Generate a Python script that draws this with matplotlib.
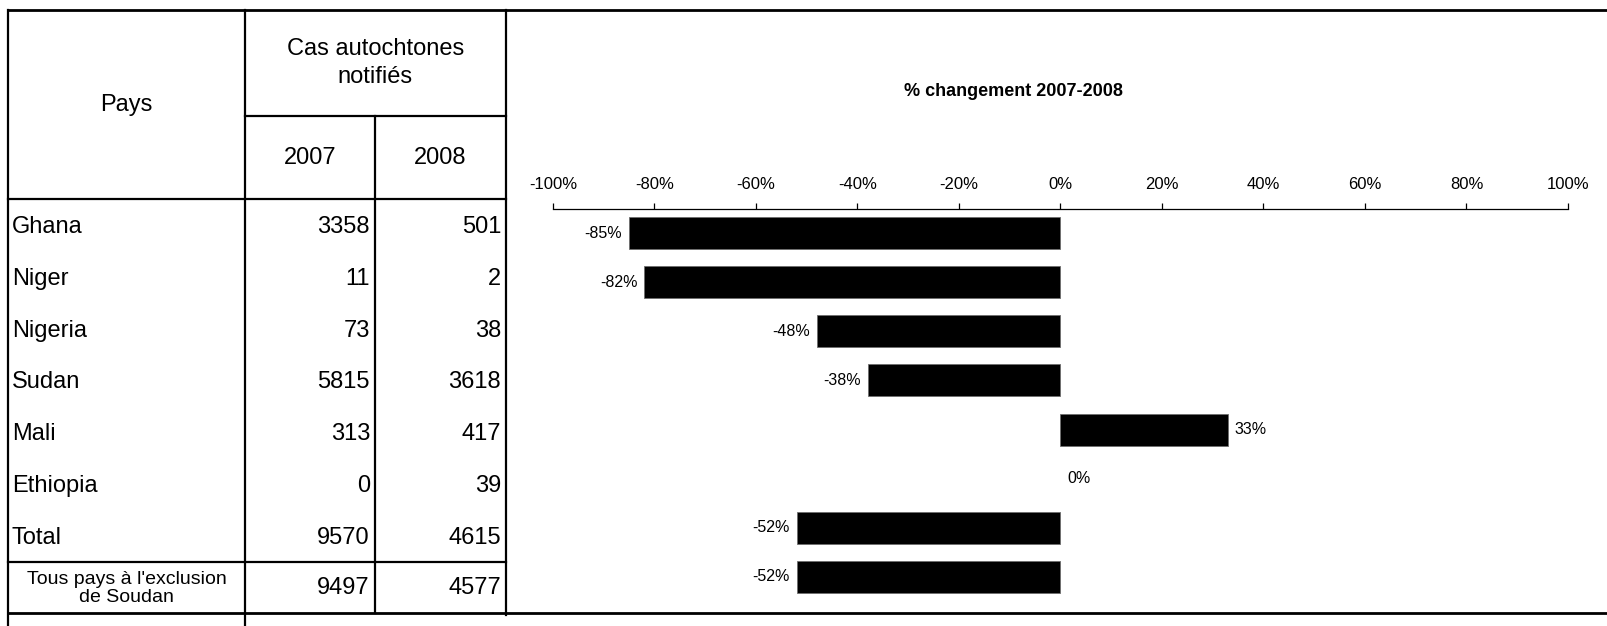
import numpy as np
import matplotlib
matplotlib.use("Agg")
import matplotlib.pyplot as plt

plt.rcParams['font.family'] = ['Liberation Sans', 'DejaVu Sans']
plt.rcParams['axes.unicode_minus'] = False

# data
countries = ["Ghana", "Niger", "Nigeria", "Sudan", "Mali", "Ethiopia", "Total",
             "Tous pays à l'exclusion\nde Soudan"]
cases_2007 = [3358, 11, 73, 5815, 313, 0, 9570, 9497]
cases_2008 = [501, 2, 38, 3618, 417, 39, 4615, 4577]
pct_change = [-85, -82, -48, -38, 33, 0, -52, -52]
tick_vals = [-100, -80, -60, -40, -20, 0, 20, 40, 60, 80, 100]

W, H = 1608, 626
fig = plt.figure(figsize=(W / 100, H / 100), dpi=100)

# table drawn in pixel coordinates on a full-figure axes
tab = fig.add_axes([0, 0, 1, 1])
tab.set_xlim(0, W)
tab.set_ylim(H, 0)
tab.axis('off')

lw = 1.6
def hline(y, x0, x1, w=lw):
    tab.plot([x0, x1], [y, y], color='black', lw=w, solid_capstyle='projecting')
def vline(x, y0, y1, w=lw):
    tab.plot([x, x], [y0, y1], color='black', lw=w, solid_capstyle='projecting')

x_left, x_c1, x_c2, x_right = 8, 245, 375, 506
y_top, y_mid, y_head, y_last, y_bot = 10, 116, 199, 562, 613

hline(y_top, x_left, W, w=2.0)
hline(y_bot, x_left, W, w=2.0)
hline(y_mid, x_c1, x_right)
hline(y_head, x_left, x_right)
hline(y_last, x_left, x_right)
vline(x_left, y_top, H)
vline(x_c1, y_top, H)
vline(x_c2, y_mid, y_bot)
vline(x_right, y_top, y_bot + 2)

fs_tab = 17
tab.text((x_left + x_c1) / 2, 105, "Pays", ha='center', va='center', fontsize=fs_tab)
tab.text((x_c1 + x_right) / 2, 63, "Cas autochtones\nnotifiés", ha='center', va='center',
         fontsize=fs_tab, linespacing=1.3)
tab.text((x_c1 + x_c2) / 2, 158, "2007", ha='center', va='center', fontsize=fs_tab)
tab.text((x_c2 + x_right) / 2, 158, "2008", ha='center', va='center', fontsize=fs_tab)

n_main = len(countries) - 1
row_h = (y_last - y_head) / n_main
for i in range(len(countries)):
    if i < n_main:
        yc = y_head + row_h * (i + 0.5) + 2
        tab.text(x_left + 4, yc, countries[i], ha='left', va='center', fontsize=fs_tab)
    else:
        yc = (y_last + y_bot) / 2
        tab.text((x_left + x_c1) / 2, yc + 1, countries[i], ha='center', va='center',
                 fontsize=14, linespacing=1.05)
    tab.text(x_c2 - 5, yc, str(cases_2007[i]), ha='right', va='center', fontsize=fs_tab)
    tab.text(x_right - 5, yc, str(cases_2008[i]), ha='right', va='center', fontsize=fs_tab)

# bar chart
ax_x0, ax_x1 = 553, 1568
ax_y0, ax_y1 = 208.5, 601.5
ax = fig.add_axes([ax_x0 / W, 1 - ax_y1 / H, (ax_x1 - ax_x0) / W, (ax_y1 - ax_y0) / H])
ax.patch.set_alpha(0)
y = np.arange(len(pct_change))
edge_w = [0.6 if v != 0 else 0 for v in pct_change]
ax.barh(y, pct_change, height=0.65, color='black', edgecolor='#6e6e6e', linewidth=edge_w)
ax.set_xlim(-100, 100)
ax.set_ylim(len(pct_change) - 0.5, -0.5)

for s in ['bottom', 'left', 'right']:
    ax.spines[s].set_visible(False)
ax.spines['top'].set_linewidth(0.9)
ax.xaxis.tick_top()
ax.set_xticks(tick_vals)
ax.set_xticklabels([f"{v}%" for v in tick_vals], fontsize=12)
ax.tick_params(axis='x', direction='out', length=4, width=0.9, pad=8)
ax.set_yticks([])

for yi, v in zip(y, pct_change):
    if v < 0:
        ax.annotate(f"{v}%", (v, yi), xytext=(-5, 0), textcoords='offset points',
                    ha='right', va='center', fontsize=11.5)
    else:
        ax.annotate(f"{v}%", (v, yi), xytext=(5, 0), textcoords='offset points',
                    ha='left', va='center', fontsize=11.5)

fig.text(1013 / W, 1 - 92 / H, "% changement 2007-2008", ha='center', va='center',
         fontsize=13, fontweight='bold')

fig.savefig("out.png", dpi=100)
